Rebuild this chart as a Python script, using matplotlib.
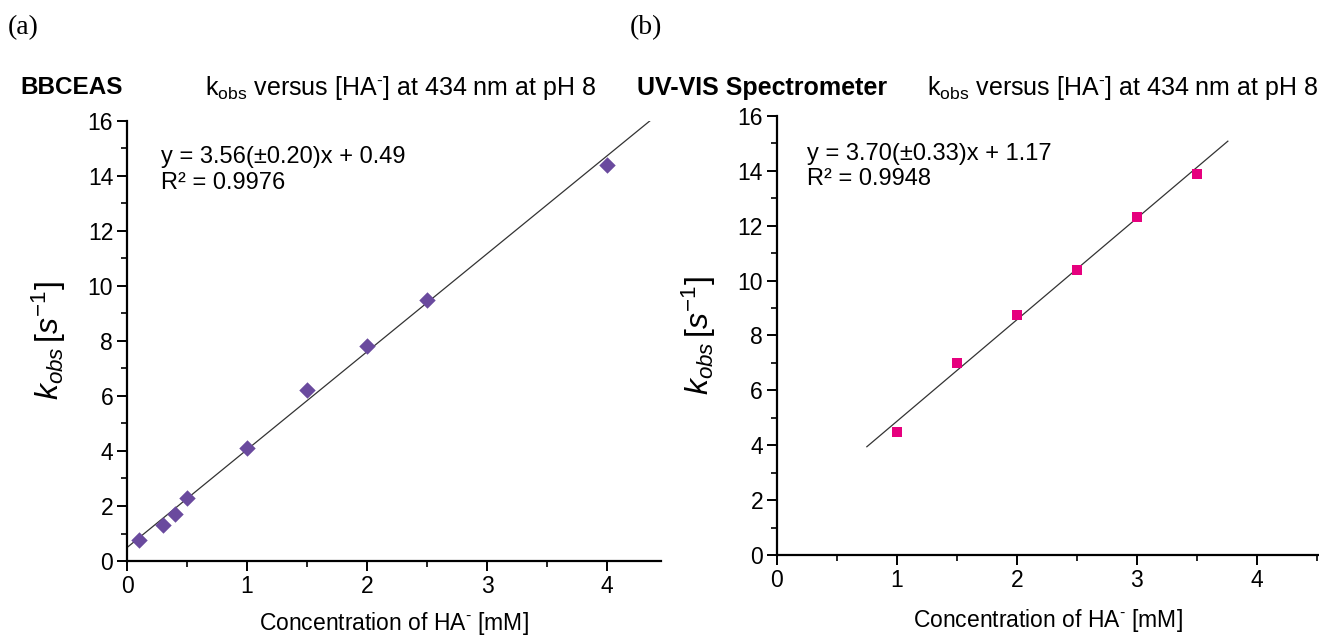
import numpy as np
import matplotlib
matplotlib.use("Agg")
from matplotlib import pyplot as plt
from matplotlib.ticker import MultipleLocator

plt.rcParams['font.family'] = ['Liberation Sans', 'DejaVu Sans']
plt.rcParams['mathtext.fontset'] = 'custom'
plt.rcParams['mathtext.rm'] = 'Liberation Sans'
plt.rcParams['mathtext.it'] = 'Liberation Sans:italic'
plt.rcParams['mathtext.bf'] = 'Liberation Sans:bold'

# (a) BBCEAS
conc_a = [0.1, 0.3, 0.4, 0.5, 1.0, 1.5, 2.0, 2.5, 4.0]
kobs_a = [0.75, 1.3, 1.7, 2.3, 4.1, 6.2, 7.8, 9.5, 14.4]
slope_a, icpt_a = 3.56, 0.49
fit_range_a = [0.0, 4.36]

# (b) UV-VIS
conc_b = [1.0, 1.5, 2.0, 2.5, 3.0, 3.5]
kobs_b = [4.5, 7.0, 8.75, 10.4, 12.3, 13.9]
slope_b, icpt_b = 3.70, 1.17
fit_range_b = [0.75, 3.76]

fig = plt.figure(figsize=(13.19, 6.39), dpi=100)

ax1 = fig.add_axes([0.0963, 0.122, 0.405, 0.689])
ax2 = fig.add_axes([0.589, 0.1315, 0.411, 0.687])

def style(ax, xmax, xpad):
    ax.set_xlim(0, xmax)
    ax.set_ylim(0, 16)
    ax.spines['top'].set_visible(False)
    ax.spines['right'].set_visible(False)
    ax.spines['left'].set_linewidth(1.6)
    ax.spines['bottom'].set_linewidth(1.6)
    ax.xaxis.set_major_locator(MultipleLocator(1))
    ax.xaxis.set_minor_locator(MultipleLocator(0.5))
    ax.yaxis.set_major_locator(MultipleLocator(2))
    ax.yaxis.set_minor_locator(MultipleLocator(1))
    ax.tick_params(which='major', direction='out', length=7, width=1.4, labelsize=16.5, pad=3)
    ax.tick_params(which='minor', direction='out', length=4, width=1.2)
    ax.set_xlabel(r'Concentration of HA$^{\text{-}}$ [mM]', fontsize=16.5, labelpad=xpad)
    ax.set_ylabel(r'$k_{obs}\,[s^{\mathit{-1}}]$', fontsize=23, labelpad=14)

style(ax1, 4.45, 9)
style(ax2, 4.52, 11)

xa = np.array(fit_range_a)
ax1.plot(xa, slope_a * xa + icpt_a, color='#333333', lw=0.9, zorder=1)
ax1.scatter(conc_a, kobs_a, marker='D', s=70, color='#6a4a9e', zorder=2, linewidths=0)
ax1.text(0.28, 14.2, 'y = 3.56(±0.20)x + 0.49\nR² = 0.9976', fontsize=17,
         linespacing=1.25, va='center')

xb = np.array(fit_range_b)
ax2.plot(xb, slope_b * xb + icpt_b, color='#333333', lw=0.9, zorder=1)
ax2.scatter(conc_b, kobs_b, marker='s', s=50, color='#e6007e', zorder=2, linewidths=0)
ax2.text(0.25, 14.15, 'y = 3.70(±0.33)x + 1.17\nR² = 0.9948', fontsize=17,
         linespacing=1.2, va='center')

fig.text(8/1319, 1 - 28/639, '(a)', family='Liberation Serif', fontsize=20, va='center')
fig.text(630/1319, 1 - 28/639, '(b)', family='Liberation Serif', fontsize=20, va='center')

title = r'k$_{\mathrm{obs}}$ versus [HA$^{\text{-}}$] at 434 nm at pH 8'
fig.text(20/1319, 1 - 88/639, 'BBCEAS', fontsize=17.5, fontweight='bold', va='center')
fig.text(205/1319, 1 - 88/639, title, fontsize=18, va='center')
fig.text(637/1319, 1 - 88/639, 'UV-VIS Spectrometer', fontsize=18, fontweight='bold', va='center')
fig.text(927/1319, 1 - 88/639, title, fontsize=18, va='center')

fig.savefig('out.png', dpi=100)
